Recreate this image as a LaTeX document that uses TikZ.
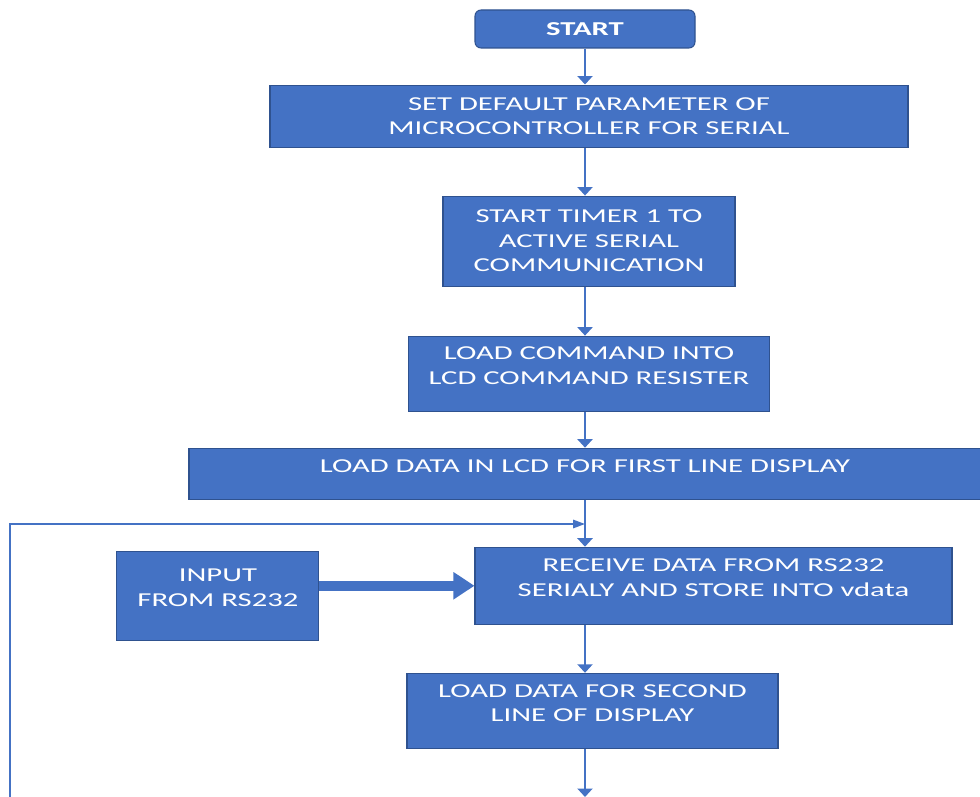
\documentclass[tikz,border=0pt]{standalone}
\usepackage{fontspec}
\setmainfont{Carlito}[FakeStretch=1.56]
\usetikzlibrary{positioning,arrows.meta}

\definecolor{boxblue}{HTML}{4472C4}
\definecolor{edgeblue}{HTML}{2F528F}

\tikzset{
  stepbox/.style={draw=edgeblue, line width=0.6pt, fill=boxblue, text=white,
    align=center, inner sep=0pt, font=\fontsize{11.2}{13.9}\selectfont},
  toptext/.style={text depth=0.32cm},
  flow/.style={draw=boxblue, line width=1.2pt, -{Triangle[length=0.17cm,width=0.3cm]}},
  loopline/.style={draw=boxblue, line width=0.9pt, -{Triangle[length=0.24cm,width=0.17cm]}},
  fatarrow/.style={draw=boxblue, line width=0.2cm, -{Triangle[length=0.42cm,width=0.52cm]}},
}

\begin{document}
\begin{tikzpicture}
  \useasboundingbox (0,0) rectangle (19.6,-15.94);

  \node[stepbox, rounded corners=0.12cm, minimum width=4.4cm, minimum height=0.76cm,
    font=\fontsize{11.2}{13.9}\selectfont\bfseries] (start) at (11.7,-0.58) {START};
  \node[stepbox, minimum width=12.76cm, minimum height=1.24cm] (setdef) [below=0.72cm of start, xshift=0.08cm] {SET DEFAULT PARAMETER OF\\MICROCONTROLLER FOR SERIAL};
  \node[stepbox, minimum width=5.84cm, minimum height=1.8cm] (timer) [below=0.96cm of setdef] {START TIMER 1 TO\\ACTIVE SERIAL\\COMMUNICATION};
  \node[stepbox, toptext, minimum width=7.22cm, minimum height=1.5cm] (lcdcmd) [below=0.98cm of timer] {LOAD COMMAND INTO\\LCD COMMAND RESISTER};
  \node[stepbox, toptext, minimum width=15.84cm, minimum height=1.02cm] (firstline) [below=0.72cm of lcdcmd, xshift=-0.08cm] {LOAD DATA IN LCD FOR FIRST LINE DISPLAY};
  \node[stepbox, toptext, minimum width=9.54cm, minimum height=1.54cm] (receive) [below=0.94cm of firstline, xshift=2.57cm] {RECEIVE DATA FROM RS232\\SERIALY AND STORE INTO vdata};
  \node[stepbox, toptext, minimum width=4.04cm, minimum height=1.78cm] (input) [left=3.1cm of receive, yshift=-0.2cm] {INPUT\\FROM RS232};
  \node[stepbox, toptext, minimum width=7.42cm, minimum height=1.5cm] (second) [below=0.96cm of receive, xshift=-2.42cm] {LOAD DATA FOR SECOND\\LINE OF DISPLAY};

  \coordinate (bottom) at (11.7,-15.94);
  \coordinate (loopfoot) at (0.2,-15.94);
  \coordinate (merge) at (11.7,-10.48);

  \path (start) edge[flow] (start |- setdef.north);
  \path (start |- setdef.south) edge[flow] (start |- timer.north);
  \path (start |- timer.south) edge[flow] (start |- lcdcmd.north);
  \path (start |- lcdcmd.south) edge[flow] (start |- firstline.north);
  \path (start |- firstline.south) edge[flow] (start |- receive.north);
  \path (start |- receive.south) edge[flow] (start |- second.north);
  \path (start |- second.south) edge[flow] (bottom);
  \draw[loopline] (loopfoot) |- (merge);
  \draw[fatarrow] (input.east |- receive.west) -- (receive.west);

\end{tikzpicture}
\end{document}
